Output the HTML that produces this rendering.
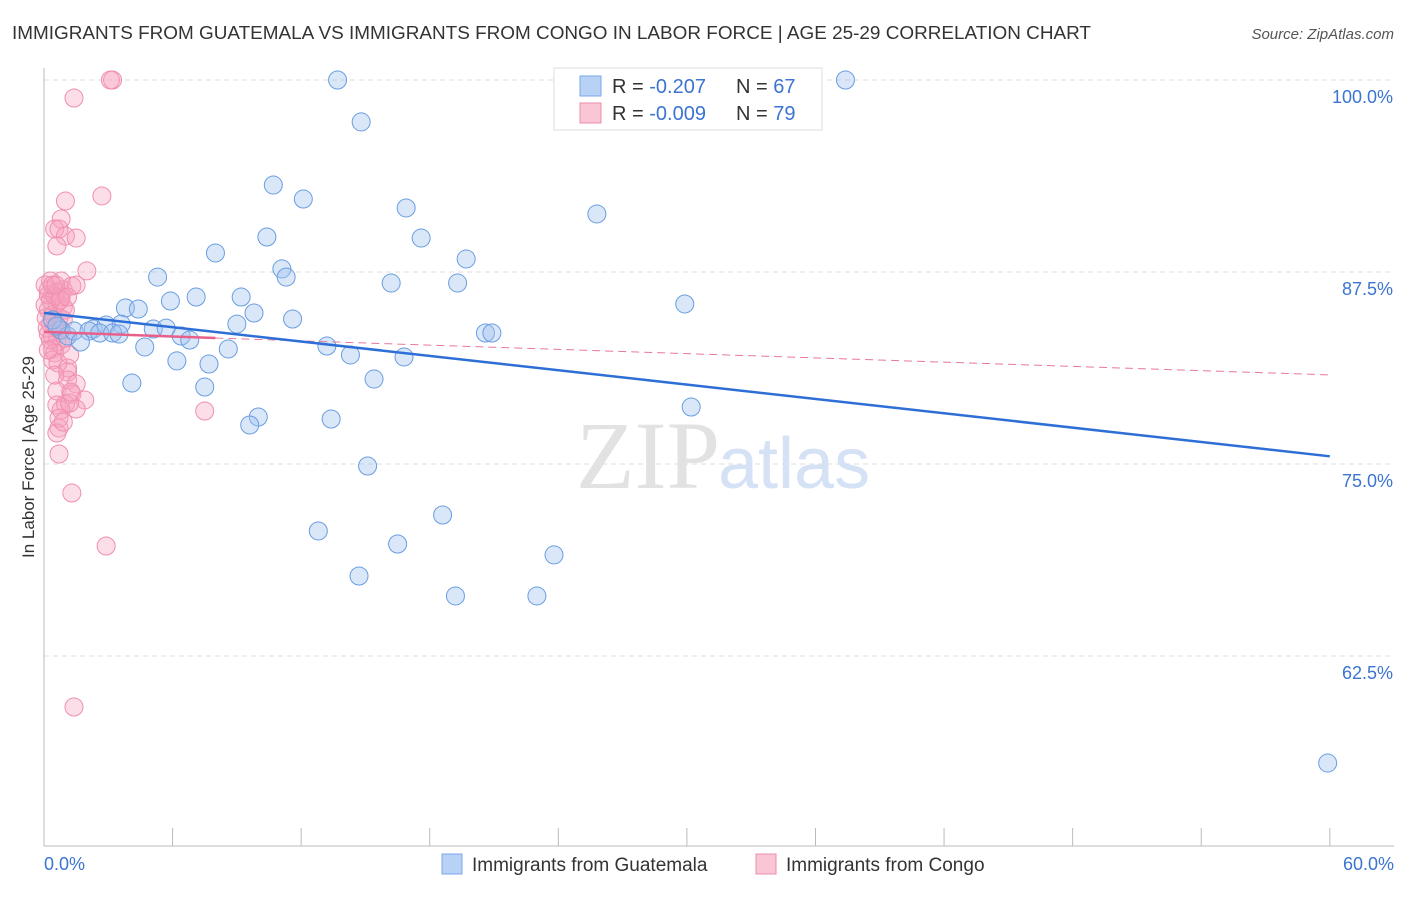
<!DOCTYPE html>
<html><head><meta charset="utf-8"><style>
body{margin:0;background:#fff;font-family:"Liberation Sans",sans-serif}
</style></head><body>
<svg width="1406" height="892" xmlns="http://www.w3.org/2000/svg" style="font-family:'Liberation Sans',sans-serif">
<text x="12" y="39" font-size="18" fill="#333" textLength="1079" lengthAdjust="spacingAndGlyphs">IMMIGRANTS FROM GUATEMALA VS IMMIGRANTS FROM CONGO IN LABOR FORCE | AGE 25-29 CORRELATION CHART</text>
<text x="1394" y="39" font-size="15" fill="#555" text-anchor="end" font-style="italic">Source: ZipAtlas.com</text>
<g id="grid"></g>
<text x="720" y="488" font-size="96" fill="#e2e2e2" text-anchor="end" font-family="Liberation Serif,serif">ZIP</text>
<text x="718" y="488" font-size="72" fill="#d5e2f5">atlas</text>
<line x1="44" y1="68" x2="44" y2="846" stroke="#bbb"/>
<line x1="44" y1="846" x2="1394" y2="846" stroke="#bbb"/>
<text transform="translate(34,457) rotate(-90)" font-size="17" fill="#333" text-anchor="middle">In Labor Force | Age 25-29</text>
<text x="44" y="870" font-size="18" fill="#3b74d1">0.0%</text>
<text x="1394" y="870" font-size="18" fill="#3b74d1" text-anchor="end">60.0%</text>
<g id="pts"></g>
<g id="lines"></g>
<g>
<rect x="554" y="68" width="268" height="62" fill="#fff" stroke="#ddd"/>
<rect x="580" y="76" width="21" height="20" fill="#b8d2f5" stroke="#7aa7e8"/>
<rect x="580" y="103" width="21" height="20" fill="#f9c6d6" stroke="#ee8cab"/>
<text x="612" y="93" font-size="20" fill="#333">R = <tspan fill="#3b74d1">-0.207</tspan></text>
<text x="736" y="93" font-size="20" fill="#333">N = <tspan fill="#3b74d1">67</tspan></text>
<text x="612" y="120" font-size="20" fill="#333">R = <tspan fill="#3b74d1">-0.009</tspan></text>
<text x="736" y="120" font-size="20" fill="#333">N = <tspan fill="#3b74d1">79</tspan></text>
</g>
<g>
<rect x="442" y="854" width="20" height="20" fill="#b8d2f5" stroke="#7aa7e8"/>
<text x="472" y="871" font-size="19" fill="#333">Immigrants from Guatemala</text>
<rect x="756" y="854" width="20" height="20" fill="#f9c6d6" stroke="#ee8cab"/>
<text x="786" y="871" font-size="19" fill="#333">Immigrants from Congo</text>
</g>
</svg>
<script>
const yTicks=[100,87.5,75,62.5];
const yTickLabels=["100.0%","87.5%","75.0%","62.5%"];
const xTicks=[0,6,12,18,24,30,36,42,48,54,60];
const blueX=[13.7,37.4,14.8,10.7,12.1,16.9,25.8,10.4,17.6,8.0,19.7,11.1,11.3,5.3,16.2,19.3,9.2,7.1,5.9,29.9,3.8,4.4,9.8,11.6,9.0,2.3,2.9,3.6,5.1,5.7,6.4,6.8,0.8,1.1,1.4,2.1,2.6,3.2,3.5,1.7,4.7,8.6,13.2,20.6,20.9,14.3,16.8,6.2,7.7,15.4,4.1,7.5,30.2,10.0,9.6,13.4,15.1,18.6,12.8,16.5,23.8,14.7,19.2,23.0,59.9,0.4,0.6];
const blueY=[100,100,97.27,93.16,92.25,91.67,91.28,89.78,89.71,88.74,88.35,87.7,87.17,87.17,86.78,86.78,85.87,85.87,85.61,85.42,85.16,85.09,84.83,84.44,84.11,83.79,84.05,84.11,83.79,83.85,83.33,83.07,83.72,83.33,83.66,83.66,83.53,83.53,83.46,82.94,82.62,82.49,82.68,83.53,83.53,82.1,81.97,81.71,81.51,80.53,80.27,80.01,78.71,78.06,77.54,77.93,74.87,71.68,70.64,69.79,69.08,67.71,66.41,66.41,55.53,84.38,83.98];
const pinkX=[3.2,3.1,1.4,2.7,1.0,0.8,0.5,0.7,1.0,1.5,0.6,2.0,0.3,0.8,0.2,0.6,0.9,1.3,1.5,0.3,0.6,0.9,0.2,0.4,0.7,0.9,0.3,0.5,0.7,0.2,0.4,0.6,0.8,0.4,0.5,1.2,0.4,1.1,1.1,1.1,1.5,0.6,1.3,1.9,0.6,1.0,1.5,0.8,0.7,0.7,0.6,0.7,1.3,2.9,1.4,7.5,0.2,0.05,0.1,0.15,0.3,0.5,0.8,1.0,0.65,0.5,1.2,0.9,0.05,0.4,1.0,0.2,0.75,0.55,1.1,1.25,0.75];
const pinkY=[100,100,98.83,92.45,92.12,90.95,90.3,90.3,89.84,89.71,89.19,87.57,86.91,86.91,86.33,86.2,86.33,86.59,86.65,85.68,85.48,85.22,85.03,84.7,84.51,84.38,84.11,83.92,83.72,83.46,83.27,82.94,82.75,82.49,82.23,82.1,81.77,81.25,80.99,80.47,80.21,79.75,79.56,79.17,78.84,78.91,78.58,78.52,77.99,77.34,77.02,75.65,73.11,69.66,59.18,78.45,86.0,85.35,84.51,83.85,83.07,85.94,85.87,83.2,81.58,80.79,78.97,77.73,86.65,86.65,85.03,82.42,85.68,86.65,85.87,79.69,83.72];
const blueTrend=[0,84.84,60,75.5];
const pinkTrendSolid=[0,83.6,8,83.2];
const pinkTrendDash=[8,83.2,60,80.8];
const X=v=>44+v*21.43, Y=v=>80+(100-v)*15.36;
const NS="http://www.w3.org/2000/svg";
const mk=(t,a,p)=>{const e=document.createElementNS(NS,t);for(const k in a)e.setAttribute(k,a[k]);p.appendChild(e);return e;};
const grid=document.getElementById('grid');
yTicks.forEach((t,i)=>{
 const l=mk('line',{x1:44,x2:1394,y1:Y(t),y2:Y(t),stroke:'#ddd','stroke-dasharray':'5,4'},grid);
 
 
 const tx=mk('text',{x:1393,y:Y(t)+23,'font-size':18,fill:'#3b74d1','text-anchor':'end'},grid);
 tx.textContent=yTickLabels[i];
 
 
});
xTicks.forEach(t=>{
 const l=mk('line',{x1:X(t),x2:X(t),y1:828,y2:846,stroke:'#bbb'},grid);
 
 
});
const pts=document.getElementById('pts');
pinkX.forEach((x,i)=>{
 const c=mk('circle',{cx:X(x),cy:Y(pinkY[i]),r:9,fill:'rgba(245,160,190,0.35)',stroke:'#ef8fae','stroke-width':1},pts);
 
 
});
blueX.forEach((x,i)=>{
 const c=mk('circle',{cx:X(x),cy:Y(blueY[i]),r:9,fill:'rgba(160,195,240,0.4)',stroke:'#6a9de0','stroke-width':1},pts);
 
 
});
const lines=document.getElementById('lines');
const pd=mk('line',{x1:X(pinkTrendDash[0]),y1:Y(pinkTrendDash[1]),x2:X(pinkTrendDash[2]),y2:Y(pinkTrendDash[3]),stroke:'#e8789c','stroke-width':1,'stroke-dasharray':'8,5'},lines);


const bl=mk('line',{x1:X(blueTrend[0]),y1:Y(blueTrend[1]),x2:X(blueTrend[2]),y2:Y(blueTrend[3]),stroke:'#2d6fd6','stroke-width':2.5},lines);


const ps=mk('line',{x1:X(pinkTrendSolid[0]),y1:Y(pinkTrendSolid[1]),x2:X(pinkTrendSolid[2]),y2:Y(pinkTrendSolid[3]),stroke:'#e8608a','stroke-width':2.5},lines);


</script>
</body></html>
